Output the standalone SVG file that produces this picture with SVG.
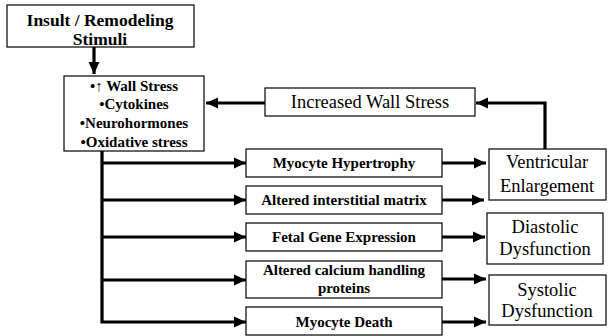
<svg xmlns="http://www.w3.org/2000/svg" width="616" height="336" viewBox="0 0 616 336">
<style>
.box{fill:#fff;stroke:#000;stroke-width:1.2}
.b{font-family:"Liberation Serif","Times New Roman",serif;font-weight:bold;fill:#000;text-anchor:middle}
.r{font-family:"Liberation Serif","Times New Roman",serif;fill:#000;text-anchor:middle}
.c{fill:none;stroke:#000;stroke-width:3.2;marker-end:url(#ah)}
</style>
<defs>
<marker id="ah" markerUnits="userSpaceOnUse" markerWidth="13" markerHeight="12" refX="12" refY="6" orient="auto">
<path d="M0,0.5 L12,6 L0,11.5 z" fill="#000"/>
</marker>
</defs>
<rect width="616" height="336" fill="#fff"/>
<g id="connectors">
<path class="c" d="M94,47 V74"/>
<path class="c" d="M265,103 H206"/>
<path class="c" d="M545,149 V103 H476"/>
<path class="c" d="M102,151 V322 H246"/>
<path class="c" d="M102,163 H246"/>
<path class="c" d="M102,200 H246"/>
<path class="c" d="M102,237 H246"/>
<path class="c" d="M102,280 H246"/>
<path class="c" d="M442,163 H486"/>
<path class="c" d="M442,200 H484"/>
<path class="c" d="M442,237 H485"/>
<path class="c" d="M442,279 H486"/>
<path class="c" d="M442,322 H486"/>
</g>
<g id="insult">
<rect class="box" x="7" y="5" width="187" height="42"/>
<text class="b" x="100" y="25.5" font-size="17.5">Insult / Remodeling</text>
<text class="b" x="100" y="44.5" font-size="17.5">Stimuli</text>
</g>
<g id="mediators">
<rect class="box" x="64" y="76" width="140" height="75"/>
<text class="b" x="134" y="91" font-size="15">•↑ Wall Stress</text>
<text class="b" x="134" y="109" font-size="15">•Cytokines</text>
<text class="b" x="134" y="128" font-size="15">•Neurohormones</text>
<text class="b" x="134" y="147" font-size="15">•Oxidative stress</text>
</g>
<g id="increased">
<rect class="box" x="265" y="88" width="210" height="28"/>
<text class="r" x="370" y="108" font-size="18.5">Increased Wall Stress</text>
</g>
<g id="hypertrophy">
<rect class="box" x="246" y="149" width="196" height="28"/>
<text class="b" x="344" y="168" font-size="15">Myocyte Hypertrophy</text>
</g>
<g id="matrix">
<rect class="box" x="246" y="186" width="196" height="28"/>
<text class="b" x="344" y="205" font-size="15">Altered interstitial matrix</text>
</g>
<g id="fetal">
<rect class="box" x="246" y="223" width="196" height="28"/>
<text class="b" x="344" y="242" font-size="15">Fetal Gene Expression</text>
</g>
<g id="calcium">
<rect class="box" x="246" y="261" width="196" height="37"/>
<text class="b" x="344" y="275" font-size="15">Altered calcium handling</text>
<text class="b" x="344" y="293" font-size="15">proteins</text>
</g>
<g id="death">
<rect class="box" x="246" y="307" width="196" height="28"/>
<text class="b" x="344" y="327" font-size="15">Myocyte Death</text>
</g>
<g id="ventricular">
<rect class="box" x="489" y="149" width="117" height="51"/>
<text class="r" x="547" y="168" font-size="18.5">Ventricular</text>
<text class="r" x="547" y="192" font-size="18.5">Enlargement</text>
</g>
<g id="diastolic">
<rect class="box" x="487" y="213" width="116" height="51"/>
<text class="r" x="545" y="233" font-size="18.5">Diastolic</text>
<text class="r" x="545" y="255" font-size="18.5">Dysfunction</text>
</g>
<g id="systolic">
<rect class="box" x="489" y="275" width="117" height="50"/>
<text class="r" x="547" y="296" font-size="18.5">Systolic</text>
<text class="r" x="547" y="317" font-size="18.5">Dysfunction</text>
</g>
</svg>
